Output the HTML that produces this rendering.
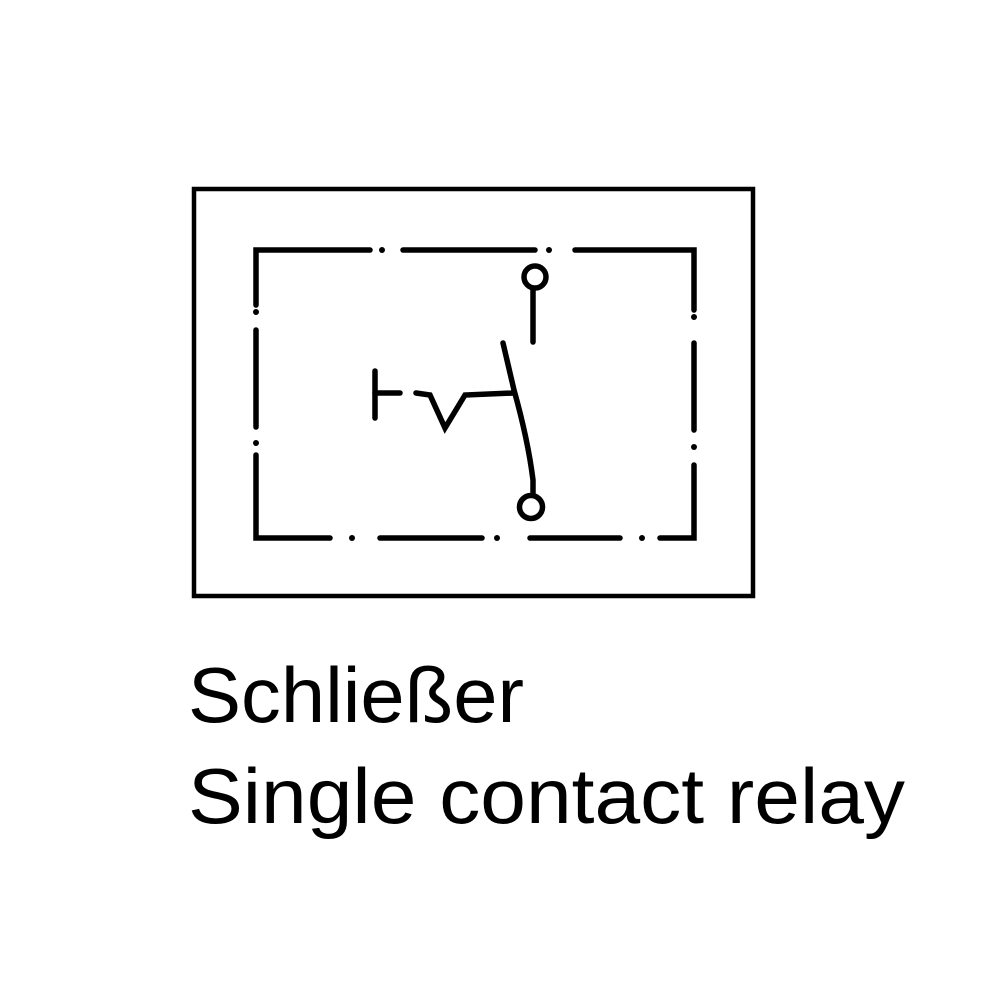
<!DOCTYPE html>
<html><head><meta charset="utf-8"><style>html,body{margin:0;padding:0;background:#fff}svg{display:block}</style></head>
<body>
<svg width="1000" height="1000" viewBox="0 0 1000 1000" xmlns="http://www.w3.org/2000/svg">
<rect x="194" y="189" width="559" height="407" fill="none" stroke="#000" stroke-width="4.5"/>
<g stroke="#000" stroke-width="5.5" fill="none" stroke-linecap="round">
<path d="M370 250 H256 V305"/>
<path d="M403 250 H535"/>
<path d="M575 250 H694 V310"/>
<path d="M256 330 V427"/>
<path d="M256 455 V538 H330"/>
<path d="M380 538 H482"/>
<path d="M530 538 H620"/>
<path d="M660 538 H694 V465"/>
<path d="M694 343 V430"/>
<path d="M375 371 V418"/>
<path d="M375 393 H400"/>
<path d="M416 393 L430 395 L445 428 L465 395 L513 393"/>
<path d="M503 343 L514 390 Q528 440 533 480 L533 493"/>
<path d="M533 290 V342"/>
<circle cx="535" cy="277" r="11"/>
<circle cx="531" cy="507" r="11.5"/>
</g>
<g fill="#000">
<circle cx="382" cy="250" r="3"/><circle cx="549" cy="250" r="3"/>
<circle cx="256" cy="312" r="3"/><circle cx="256" cy="443" r="3"/>
<circle cx="694" cy="317" r="3"/><circle cx="694" cy="447" r="3"/>
<circle cx="352" cy="538" r="3"/><circle cx="497" cy="538" r="3"/><circle cx="642" cy="538" r="3"/>
</g>
<g font-family="Liberation Sans, sans-serif" font-size="78" fill="#000">
<text x="188" y="722" textLength="336" lengthAdjust="spacingAndGlyphs">Schließer</text>
<text x="188" y="823" textLength="717" lengthAdjust="spacingAndGlyphs">Single contact relay</text>
</g>
</svg>
</body></html>
